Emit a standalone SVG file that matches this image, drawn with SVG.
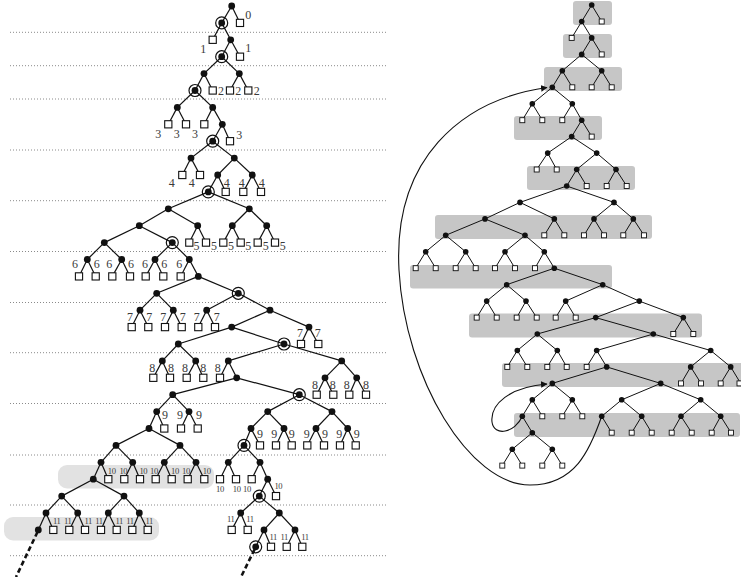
<svg xmlns="http://www.w3.org/2000/svg" width="741" height="577" viewBox="0 0 741 577">
<style>
.dl{stroke:#8a8a8a;stroke-width:1;stroke-dasharray:1 2;fill:none}
.e path{stroke:#111;stroke-width:1.2;fill:none}
.er path{stroke:#111;stroke-width:1;fill:none}
.lb{font-family:"Liberation Serif","DejaVu Serif",serif;font-size:12px;fill:#3a3a3a;text-anchor:middle}
.sm{font-family:"Liberation Serif","DejaVu Serif",serif;font-size:8.6px;fill:#3a3a3a;text-anchor:middle;letter-spacing:-0.4px}
.bxl{fill:#e2e2e2}
.bxr{fill:#c6c6c6}
.arc{stroke:#111;stroke-width:1.1;fill:none;marker-end:url(#ah)}
.dash{stroke:#111;stroke-width:2.6;stroke-dasharray:5 3;fill:none}
</style>
<defs>
<circle id="d" r="3.4" fill="#111"/>
<g id="c"><circle r="3.4" fill="#111"/><circle r="6" fill="none" stroke="#111" stroke-width="1.2"/></g>
<rect id="s" x="-3.6" y="-3.6" width="7.2" height="7.2" fill="#fff" stroke="#111" stroke-width="1.1"/>
<circle id="rd" r="2.8" fill="#111"/>
<rect id="rs" x="-2.5" y="-2.5" width="5" height="5" fill="#fff" stroke="#111" stroke-width="0.9"/>
<marker id="ah" markerWidth="8" markerHeight="8" refX="6" refY="3.4" orient="auto" markerUnits="userSpaceOnUse"><path d="M0 0L6.5 3.4L0 6.8z" fill="#111"/></marker>
</defs>
<rect width="741" height="577" fill="#fff"/>
<g id="bands">
<rect class="bxl" x="58" y="465" width="156" height="23.5" rx="9"/>
<rect class="bxl" x="4" y="517" width="155" height="23.5" rx="9"/>
<rect class="bxr" x="573" y="1" width="39" height="24" rx="3"/>
<rect class="bxr" x="563" y="34" width="49" height="24" rx="3"/>
<rect class="bxr" x="544" y="67" width="78" height="24" rx="3"/>
<rect class="bxr" x="514" y="116" width="88" height="24" rx="3"/>
<rect class="bxr" x="527" y="166" width="108" height="24" rx="3"/>
<rect class="bxr" x="435" y="215" width="217" height="24" rx="3"/>
<rect class="bxr" x="410" y="265" width="202" height="23.5" rx="3"/>
<rect class="bxr" x="469" y="313.5" width="233" height="24" rx="3"/>
<rect class="bxr" x="502" y="363" width="245" height="24" rx="3"/>
<rect class="bxr" x="514" y="413" width="226" height="24" rx="3"/>
</g>
<path class="dl" d="M10 32.3H388M10 65.7H388M10 99H388M10 150H388M10 200.7H388M10 251.5H388M10 302.5H388M10 352.7H388M10 403.5H388M10 455H388M10 505H388M10 555.7H388"/>
<g id="connectors">
<g class="e">
<path d="M231.7 6L221.7 22.9"/><path d="M231.7 6L240 22.9"/>
<path d="M221.7 22.9L212.7 39.8"/><path d="M221.7 22.9L230.7 39.8"/>
<path d="M230.7 39.8L221.7 56.7"/><path d="M230.7 39.8L240 56.7"/>
<path d="M221.7 56.7L204 73.6"/><path d="M221.7 56.7L239.3 73.6"/>
<path d="M204 73.6L195 90.5"/><path d="M204 73.6L212.7 90.5"/>
<path d="M239.3 73.6L230 90.5"/><path d="M239.3 73.6L248.3 90.5"/>
<path d="M195 90.5L177.3 107.4"/><path d="M195 90.5L212.7 107.4"/>
<path d="M177.3 107.4L168.3 124.3"/><path d="M177.3 107.4L186 124.3"/>
<path d="M212.7 107.4L204.3 124.3"/><path d="M212.7 107.4L222.3 124.3"/>
<path d="M222.3 124.3L212.7 141.2"/><path d="M222.3 124.3L230 141.2"/>
<path d="M212.7 141.2L191 158.1"/><path d="M212.7 141.2L234.3 158.1"/>
<path d="M191 158.1L182.3 175"/><path d="M191 158.1L200 175"/>
<path d="M234.3 158.1L217.7 175"/><path d="M234.3 158.1L252.3 175"/>
<path d="M217.7 175L208.3 191.9"/><path d="M217.7 175L225.7 191.9"/>
<path d="M252.3 175L243.3 191.9"/><path d="M252.3 175L261 191.9"/>
<path d="M208.3 191.9L168.3 208.8"/><path d="M208.3 191.9L249.3 208.8"/>
<path d="M168.3 208.8L139.3 225.7"/><path d="M168.3 208.8L197.7 225.7"/>
<path d="M249.3 208.8L232.3 225.7"/><path d="M249.3 208.8L266.7 225.7"/>
<path d="M139.3 225.7L104.3 242.6"/><path d="M139.3 225.7L172.3 242.6"/>
<path d="M197.7 225.7L189.3 242.6"/><path d="M197.7 225.7L206 242.6"/>
<path d="M232.3 225.7L223.3 242.6"/><path d="M232.3 225.7L240.7 242.6"/>
<path d="M266.7 225.7L257.7 242.6"/><path d="M266.7 225.7L275 242.6"/>
<path d="M104.3 242.6L87.3 259.5"/><path d="M104.3 242.6L121.7 259.5"/>
<path d="M172.3 242.6L155 259.5"/><path d="M172.3 242.6L189.3 259.5"/>
<path d="M87.3 259.5L79 276.4"/><path d="M87.3 259.5L95.7 276.4"/>
<path d="M121.7 259.5L112.3 276.4"/><path d="M121.7 259.5L130 276.4"/>
<path d="M155 259.5L145.7 276.4"/><path d="M155 259.5L163.3 276.4"/>
<path d="M189.3 259.5L180.7 276.4"/><path d="M189.3 259.5L198.3 276.4"/>
<path d="M198.3 276.4L156.7 293.3"/><path d="M198.3 276.4L238.3 293.3"/>
<path d="M156.7 293.3L140 310.2"/><path d="M156.7 293.3L173.3 310.2"/>
<path d="M238.3 293.3L206.7 310.2"/><path d="M238.3 293.3L270 310.2"/>
<path d="M140 310.2L131.7 327.1"/><path d="M140 310.2L148.3 327.1"/>
<path d="M173.3 310.2L165 327.1"/><path d="M173.3 310.2L181.7 327.1"/>
<path d="M206.7 310.2L198.3 327.1"/><path d="M206.7 310.2L215 327.1"/>
<path d="M270 310.2L231.7 327.1"/><path d="M270 310.2L309 327.1"/>
<path d="M231.7 327.1L178.3 344"/><path d="M231.7 327.1L284 344"/>
<path d="M309 327.1L301 344"/><path d="M309 327.1L318.3 344"/>
<path d="M178.3 344L162.3 360.9"/><path d="M178.3 344L195.7 360.9"/>
<path d="M284 344L228.3 360.9"/><path d="M284 344L341.7 360.9"/>
<path d="M162.3 360.9L153.3 377.8"/><path d="M162.3 360.9L170 377.8"/>
<path d="M195.7 360.9L186.7 377.8"/><path d="M195.7 360.9L203.3 377.8"/>
<path d="M228.3 360.9L220 377.8"/><path d="M228.3 360.9L236.7 377.8"/>
<path d="M341.7 360.9L325 377.8"/><path d="M341.7 360.9L356.7 377.8"/>
<path d="M236.7 377.8L172.7 394.7"/><path d="M236.7 377.8L299.3 394.7"/>
<path d="M325 377.8L316.7 394.7"/><path d="M325 377.8L333.3 394.7"/>
<path d="M356.7 377.8L349.3 394.7"/><path d="M356.7 377.8L366 394.7"/>
<path d="M172.7 394.7L156.7 411.6"/><path d="M172.7 394.7L189 411.6"/>
<path d="M299.3 394.7L267.7 411.6"/><path d="M299.3 394.7L332 411.6"/>
<path d="M156.7 411.6L149 428.5"/><path d="M156.7 411.6L164.3 428.5"/>
<path d="M189 411.6L181 428.5"/><path d="M189 411.6L197.7 428.5"/>
<path d="M267.7 411.6L251 428.5"/><path d="M267.7 411.6L284 428.5"/>
<path d="M332 411.6L316 428.5"/><path d="M332 411.6L347.7 428.5"/>
<path d="M149 428.5L116 445.4"/><path d="M149 428.5L180 445.4"/>
<path d="M251 428.5L244 445.4"/><path d="M251 428.5L260 445.4"/>
<path d="M284 428.5L276 445.4"/><path d="M284 428.5L291.7 445.4"/>
<path d="M316 428.5L307.3 445.4"/><path d="M316 428.5L324 445.4"/>
<path d="M347.7 428.5L340 445.4"/><path d="M347.7 428.5L355.7 445.4"/>
<path d="M116 445.4L101 462.3"/><path d="M116 445.4L132.7 462.3"/>
<path d="M180 445.4L164.3 462.3"/><path d="M180 445.4L196 462.3"/>
<path d="M244 445.4L228.3 462.3"/><path d="M244 445.4L260 462.3"/>
<path d="M101 462.3L93.3 479.2"/><path d="M101 462.3L108.3 479.2"/>
<path d="M132.7 462.3L124.3 479.2"/><path d="M132.7 462.3L140 479.2"/>
<path d="M164.3 462.3L155.7 479.2"/><path d="M164.3 462.3L171.7 479.2"/>
<path d="M196 462.3L187.7 479.2"/><path d="M196 462.3L204.3 479.2"/>
<path d="M228.3 462.3L220 479.2"/><path d="M228.3 462.3L236 479.2"/>
<path d="M260 462.3L251.7 479.2"/><path d="M260 462.3L267.7 479.2"/>
<path d="M93.3 479.2L61.7 496.1"/><path d="M93.3 479.2L124 496.1"/>
<path d="M267.7 479.2L259.3 496.1"/><path d="M267.7 479.2L276 496.1"/>
<path d="M61.7 496.1L46 513"/><path d="M61.7 496.1L77.7 513"/>
<path d="M124 496.1L108.3 513"/><path d="M124 496.1L139.3 513"/>
<path d="M259.3 496.1L240.7 513"/><path d="M259.3 496.1L279.3 513"/>
<path d="M46 513L38.3 529.9"/><path d="M46 513L53.3 529.9"/>
<path d="M77.7 513L69.3 529.9"/><path d="M77.7 513L85 529.9"/>
<path d="M108.3 513L101 529.9"/><path d="M108.3 513L116.7 529.9"/>
<path d="M139.3 513L132.3 529.9"/><path d="M139.3 513L147.7 529.9"/>
<path d="M240.7 513L231.7 529.9"/><path d="M240.7 513L247.7 529.9"/>
<path d="M279.3 513L264 529.9"/><path d="M279.3 513L295 529.9"/>
<path d="M264 529.9L255.7 546.8"/><path d="M264 529.9L271 546.8"/>
<path d="M295 529.9L286.7 546.8"/><path d="M295 529.9L302.3 546.8"/>
</g>
<path class="dash" d="M37.5 532L16 577"/>
<path class="dash" d="M254.5 549.5L241 577"/>
<g class="er">
<path d="M591.7 5L581.7 21.5"/><path d="M591.7 5L601.7 21.5"/>
<path d="M581.7 21.5L571.7 37.9"/><path d="M581.7 21.5L591.7 37.9"/>
<path d="M591.7 37.9L581.7 54.4"/><path d="M591.7 37.9L601.7 54.4"/>
<path d="M581.7 54.4L562.3 70.8"/><path d="M581.7 54.4L601.7 70.8"/>
<path d="M562.3 70.8L552.3 87.3"/><path d="M562.3 70.8L572.3 87.3"/>
<path d="M601.7 70.8L591.7 87.3"/><path d="M601.7 70.8L611.7 87.3"/>
<path d="M552.3 87.3L532.3 103.7"/><path d="M552.3 87.3L572.3 103.7"/>
<path d="M532.3 103.7L522.3 120.2"/><path d="M532.3 103.7L542.3 120.2"/>
<path d="M572.3 103.7L562.3 120.2"/><path d="M572.3 103.7L581.7 120.2"/>
<path d="M581.7 120.2L571.7 136.6"/><path d="M581.7 120.2L591.7 136.6"/>
<path d="M571.7 136.6L547.7 153.1"/><path d="M571.7 136.6L596.7 153.1"/>
<path d="M547.7 153.1L536.7 169.5"/><path d="M547.7 153.1L556.7 169.5"/>
<path d="M596.7 153.1L576.7 169.5"/><path d="M596.7 153.1L616 169.5"/>
<path d="M576.7 169.5L566.7 186"/><path d="M576.7 169.5L586.7 186"/>
<path d="M616 169.5L606.7 186"/><path d="M616 169.5L626.7 186"/>
<path d="M566.7 186L520 202.4"/><path d="M566.7 186L614 202.4"/>
<path d="M520 202.4L485 218.9"/><path d="M520 202.4L554.3 218.9"/>
<path d="M614 202.4L594 218.9"/><path d="M614 202.4L633.3 218.9"/>
<path d="M485 218.9L445.7 235.3"/><path d="M485 218.9L525 235.3"/>
<path d="M554.3 218.9L544.3 235.3"/><path d="M554.3 218.9L564.3 235.3"/>
<path d="M594 218.9L584 235.3"/><path d="M594 218.9L604 235.3"/>
<path d="M633.3 218.9L623.3 235.3"/><path d="M633.3 218.9L644 235.3"/>
<path d="M445.7 235.3L425.7 251.8"/><path d="M445.7 235.3L465.7 251.8"/>
<path d="M525 235.3L505 251.8"/><path d="M525 235.3L544.3 251.8"/>
<path d="M425.7 251.8L415.7 268.2"/><path d="M425.7 251.8L435.7 268.2"/>
<path d="M465.7 251.8L455.7 268.2"/><path d="M465.7 251.8L475.7 268.2"/>
<path d="M505 251.8L495 268.2"/><path d="M505 251.8L515 268.2"/>
<path d="M544.3 251.8L535 268.2"/><path d="M544.3 251.8L554.3 268.2"/>
<path d="M554.3 268.2L506.7 284.7"/><path d="M554.3 268.2L602.7 284.7"/>
<path d="M506.7 284.7L486.7 301.1"/><path d="M506.7 284.7L526 301.1"/>
<path d="M602.7 284.7L565.7 301.1"/><path d="M602.7 284.7L639.3 301.1"/>
<path d="M486.7 301.1L476.7 317.6"/><path d="M486.7 301.1L496.7 317.6"/>
<path d="M526 301.1L516.7 317.6"/><path d="M526 301.1L536.7 317.6"/>
<path d="M565.7 301.1L555.7 317.6"/><path d="M565.7 301.1L575.7 317.6"/>
<path d="M639.3 301.1L595.7 317.6"/><path d="M639.3 301.1L683.3 317.6"/>
<path d="M595.7 317.6L537.3 334"/><path d="M595.7 317.6L653.3 334"/>
<path d="M683.3 317.6L673.3 334"/><path d="M683.3 317.6L693.3 334"/>
<path d="M537.3 334L517.3 350.5"/><path d="M537.3 334L557.3 350.5"/>
<path d="M653.3 334L596.7 350.5"/><path d="M653.3 334L710.7 350.5"/>
<path d="M517.3 350.5L507.3 366.9"/><path d="M517.3 350.5L527.3 366.9"/>
<path d="M557.3 350.5L547.3 366.9"/><path d="M557.3 350.5L566.7 366.9"/>
<path d="M596.7 350.5L586.7 366.9"/><path d="M596.7 350.5L606.7 366.9"/>
<path d="M710.7 350.5L690.7 366.9"/><path d="M710.7 350.5L730.7 366.9"/>
<path d="M606.7 366.9L552.3 383.4"/><path d="M606.7 366.9L660.7 383.4"/>
<path d="M690.7 366.9L681 383.4"/><path d="M690.7 366.9L701 383.4"/>
<path d="M730.7 366.9L720.7 383.4"/><path d="M730.7 366.9L740.7 383.4"/>
<path d="M552.3 383.4L532.3 399.8"/><path d="M552.3 383.4L572.3 399.8"/>
<path d="M660.7 383.4L621.7 399.8"/><path d="M660.7 383.4L700.7 399.8"/>
<path d="M532.3 399.8L522.3 416.3"/><path d="M532.3 399.8L542.3 416.3"/>
<path d="M572.3 399.8L562.3 416.3"/><path d="M572.3 399.8L582.3 416.3"/>
<path d="M621.7 399.8L601.7 416.3"/><path d="M621.7 399.8L641.7 416.3"/>
<path d="M700.7 399.8L681 416.3"/><path d="M700.7 399.8L720.7 416.3"/>
<path d="M522.3 416.3L532.3 432.7"/>
<path d="M601.7 416.3L611.7 432.7"/>
<path d="M641.7 416.3L631.7 432.7"/><path d="M641.7 416.3L651.7 432.7"/>
<path d="M681 416.3L671.7 432.7"/><path d="M681 416.3L691.7 432.7"/>
<path d="M720.7 416.3L711.7 432.7"/><path d="M720.7 416.3L731 432.7"/>
<path d="M532.3 432.7L512.3 449.2"/><path d="M532.3 432.7L552.3 449.2"/>
<path d="M512.3 449.2L502.3 465.6"/><path d="M512.3 449.2L522.3 465.6"/>
<path d="M552.3 449.2L542.3 465.6"/><path d="M552.3 449.2L562.3 465.6"/>
</g>
<path class="arc" d="M601.7 416.3C590 450 575 485 530 485C470 485 405 380 399 270C393 160 460 100 547 87.5"/>
<path class="arc" d="M522.3 416.3C515 433 494 437 492 422C490 404 510 387 547 384"/>
</g>
<g id="left-tree">
<g id="L0"><use href="#d" x="231.7" y="6"/></g>
<g id="L1a"><use href="#c" x="221.7" y="22.9"/></g>
<g id="L1b"><use href="#s" x="240" y="22.9"/><text class="lb" x="248.3" y="19.3">0</text></g>
<g id="L2a"><use href="#s" x="212.7" y="39.8"/><text class="lb" x="203.3" y="52.6">1</text></g>
<g id="L2b"><use href="#d" x="230.7" y="39.8"/></g>
<g id="L3a"><use href="#c" x="221.7" y="56.7"/></g>
<g id="L3b"><use href="#s" x="240" y="56.7"/><text class="lb" x="248.3" y="52">1</text></g>
<g id="L4a"><use href="#d" x="204" y="73.6"/></g>
<g id="L4b"><use href="#d" x="239.3" y="73.6"/></g>
<g id="L5a"><use href="#c" x="195" y="90.5"/></g>
<g id="L5b"><use href="#s" x="212.7" y="90.5"/><text class="lb" x="221" y="95">2</text></g>
<g id="L5c"><use href="#s" x="230" y="90.5"/><text class="lb" x="238.3" y="95">2</text></g>
<g id="L5d"><use href="#s" x="248.3" y="90.5"/><text class="lb" x="256.7" y="95">2</text></g>
<g id="L6a"><use href="#d" x="177.3" y="107.4"/></g>
<g id="L6b"><use href="#d" x="212.7" y="107.4"/></g>
<g id="L7a"><use href="#s" x="168.3" y="124.3"/><text class="lb" x="158.3" y="137.6">3</text></g>
<g id="L7b"><use href="#s" x="186" y="124.3"/><text class="lb" x="176.7" y="137.6">3</text></g>
<g id="L7c"><use href="#s" x="204.3" y="124.3"/><text class="lb" x="195" y="137.6">3</text></g>
<g id="L7d"><use href="#d" x="222.3" y="124.3"/></g>
<g id="L8a"><use href="#c" x="212.7" y="141.2"/></g>
<g id="L8b"><use href="#s" x="230" y="141.2"/><text class="lb" x="239.3" y="139.3">3</text></g>
<g id="L9a"><use href="#d" x="191" y="158.1"/></g>
<g id="L9b"><use href="#d" x="234.3" y="158.1"/></g>
<g id="L10a"><use href="#s" x="182.3" y="175"/><text class="lb" x="171.7" y="187">4</text></g>
<g id="L10b"><use href="#s" x="200" y="175"/><text class="lb" x="191.7" y="187">4</text></g>
<g id="L10c"><use href="#d" x="217.7" y="175"/></g>
<g id="L10d"><use href="#d" x="252.3" y="175"/></g>
<g id="L11a"><use href="#c" x="208.3" y="191.9"/></g>
<g id="L11b"><use href="#s" x="225.7" y="191.9"/><text class="lb" x="226.7" y="187">4</text></g>
<g id="L11c"><use href="#s" x="243.3" y="191.9"/><text class="lb" x="241.7" y="187">4</text></g>
<g id="L11d"><use href="#s" x="261" y="191.9"/><text class="lb" x="261.7" y="187">4</text></g>
<g id="L12a"><use href="#d" x="168.3" y="208.8"/></g>
<g id="L12b"><use href="#d" x="249.3" y="208.8"/></g>
<g id="L13a"><use href="#d" x="139.3" y="225.7"/></g>
<g id="L13b"><use href="#d" x="197.7" y="225.7"/></g>
<g id="L13c"><use href="#d" x="232.3" y="225.7"/></g>
<g id="L13d"><use href="#d" x="266.7" y="225.7"/></g>
<g id="L14a"><use href="#d" x="104.3" y="242.6"/></g>
<g id="L14b"><use href="#c" x="172.3" y="242.6"/></g>
<g id="L14c"><use href="#s" x="189.3" y="242.6"/><text class="lb" x="196.5" y="249.6">5</text></g>
<g id="L14d"><use href="#s" x="206" y="242.6"/><text class="lb" x="214" y="249.6">5</text></g>
<g id="L14e"><use href="#s" x="223.3" y="242.6"/><text class="lb" x="231" y="249.6">5</text></g>
<g id="L14f"><use href="#s" x="240.7" y="242.6"/><text class="lb" x="248.3" y="249.6">5</text></g>
<g id="L14g"><use href="#s" x="257.7" y="242.6"/><text class="lb" x="265.7" y="249.6">5</text></g>
<g id="L14h"><use href="#s" x="275" y="242.6"/><text class="lb" x="282.7" y="249.6">5</text></g>
<g id="L15a"><use href="#d" x="87.3" y="259.5"/></g>
<g id="L15b"><use href="#d" x="121.7" y="259.5"/></g>
<g id="L15c"><use href="#d" x="155" y="259.5"/></g>
<g id="L15d"><use href="#d" x="189.3" y="259.5"/></g>
<g id="L16a"><use href="#s" x="79" y="276.4"/><text class="lb" x="75" y="268.3">6</text></g>
<g id="L16b"><use href="#s" x="95.7" y="276.4"/><text class="lb" x="96.7" y="268.3">6</text></g>
<g id="L16c"><use href="#s" x="112.3" y="276.4"/><text class="lb" x="109.3" y="268.3">6</text></g>
<g id="L16d"><use href="#s" x="130" y="276.4"/><text class="lb" x="131" y="268.3">6</text></g>
<g id="L16e"><use href="#s" x="145.7" y="276.4"/><text class="lb" x="145" y="268.3">6</text></g>
<g id="L16f"><use href="#s" x="163.3" y="276.4"/><text class="lb" x="164.3" y="268.3">6</text></g>
<g id="L16g"><use href="#s" x="180.7" y="276.4"/><text class="lb" x="179.3" y="268.3">6</text></g>
<g id="L16h"><use href="#d" x="198.3" y="276.4"/></g>
<g id="L17a"><use href="#d" x="156.7" y="293.3"/></g>
<g id="L17b"><use href="#c" x="238.3" y="293.3"/></g>
<g id="L18a"><use href="#d" x="140" y="310.2"/></g>
<g id="L18b"><use href="#d" x="173.3" y="310.2"/></g>
<g id="L18c"><use href="#d" x="206.7" y="310.2"/></g>
<g id="L18d"><use href="#d" x="270" y="310.2"/></g>
<g id="L19a"><use href="#s" x="131.7" y="327.1"/><text class="lb" x="130" y="320.6">7</text></g>
<g id="L19b"><use href="#s" x="148.3" y="327.1"/><text class="lb" x="149.3" y="320.6">7</text></g>
<g id="L19c"><use href="#s" x="165" y="327.1"/><text class="lb" x="163.3" y="320.6">7</text></g>
<g id="L19d"><use href="#s" x="181.7" y="327.1"/><text class="lb" x="182.7" y="320.6">7</text></g>
<g id="L19e"><use href="#s" x="198.3" y="327.1"/><text class="lb" x="196.7" y="320.6">7</text></g>
<g id="L19f"><use href="#s" x="215" y="327.1"/><text class="lb" x="216.7" y="320.6">7</text></g>
<g id="L19g"><use href="#d" x="231.7" y="327.1"/></g>
<g id="L19h"><use href="#d" x="309" y="327.1"/></g>
<g id="L20a"><use href="#d" x="178.3" y="344"/></g>
<g id="L20b"><use href="#c" x="284" y="344"/></g>
<g id="L20c"><use href="#s" x="301" y="344"/><text class="lb" x="300" y="337">7</text></g>
<g id="L20d"><use href="#s" x="318.3" y="344"/><text class="lb" x="317.7" y="337">7</text></g>
<g id="L21a"><use href="#d" x="162.3" y="360.9"/></g>
<g id="L21b"><use href="#d" x="195.7" y="360.9"/></g>
<g id="L21c"><use href="#d" x="228.3" y="360.9"/></g>
<g id="L21d"><use href="#d" x="341.7" y="360.9"/></g>
<g id="L22a"><use href="#s" x="153.3" y="377.8"/><text class="lb" x="152.3" y="372.3">8</text></g>
<g id="L22b"><use href="#s" x="170" y="377.8"/><text class="lb" x="171" y="372.3">8</text></g>
<g id="L22c"><use href="#s" x="186.7" y="377.8"/><text class="lb" x="185" y="372.3">8</text></g>
<g id="L22d"><use href="#s" x="203.3" y="377.8"/><text class="lb" x="203.3" y="372.3">8</text></g>
<g id="L22e"><use href="#s" x="220" y="377.8"/><text class="lb" x="217.7" y="372.3">8</text></g>
<g id="L22f"><use href="#d" x="236.7" y="377.8"/></g>
<g id="L22g"><use href="#d" x="325" y="377.8"/></g>
<g id="L22h"><use href="#d" x="356.7" y="377.8"/></g>
<g id="L23a"><use href="#d" x="172.7" y="394.7"/></g>
<g id="L23b"><use href="#c" x="299.3" y="394.7"/></g>
<g id="L23c"><use href="#s" x="316.7" y="394.7"/><text class="lb" x="315" y="389.3">8</text></g>
<g id="L23d"><use href="#s" x="333.3" y="394.7"/><text class="lb" x="332.7" y="389.3">8</text></g>
<g id="L23e"><use href="#s" x="349.3" y="394.7"/><text class="lb" x="346.7" y="389.3">8</text></g>
<g id="L23f"><use href="#s" x="366" y="394.7"/><text class="lb" x="366" y="389.3">8</text></g>
<g id="L24a"><use href="#d" x="156.7" y="411.6"/></g>
<g id="L24b"><use href="#d" x="189" y="411.6"/></g>
<g id="L24c"><use href="#d" x="267.7" y="411.6"/></g>
<g id="L24d"><use href="#d" x="332" y="411.6"/></g>
<g id="L25a"><use href="#d" x="149" y="428.5"/></g>
<g id="L25b"><use href="#s" x="164.3" y="428.5"/><text class="lb" x="165" y="419.3">9</text></g>
<g id="L25c"><use href="#s" x="181" y="428.5"/><text class="lb" x="180" y="419.3">9</text></g>
<g id="L25d"><use href="#s" x="197.7" y="428.5"/><text class="lb" x="199" y="419.3">9</text></g>
<g id="L25e"><use href="#d" x="251" y="428.5"/></g>
<g id="L25f"><use href="#d" x="284" y="428.5"/></g>
<g id="L25g"><use href="#d" x="316" y="428.5"/></g>
<g id="L25h"><use href="#d" x="347.7" y="428.5"/></g>
<g id="L26a"><use href="#d" x="116" y="445.4"/></g>
<g id="L26b"><use href="#d" x="180" y="445.4"/></g>
<g id="L26c"><use href="#c" x="244" y="445.4"/></g>
<g id="L26d"><use href="#s" x="260" y="445.4"/><text class="lb" x="260" y="437.6">9</text></g>
<g id="L26e"><use href="#s" x="276" y="445.4"/><text class="lb" x="274.3" y="437.6">9</text></g>
<g id="L26f"><use href="#s" x="291.7" y="445.4"/><text class="lb" x="291.7" y="437.6">9</text></g>
<g id="L26g"><use href="#s" x="307.3" y="445.4"/><text class="lb" x="306.7" y="437.6">9</text></g>
<g id="L26h"><use href="#s" x="324" y="445.4"/><text class="lb" x="325" y="437.6">9</text></g>
<g id="L26i"><use href="#s" x="340" y="445.4"/><text class="lb" x="339.3" y="437.6">9</text></g>
<g id="L26j"><use href="#s" x="355.7" y="445.4"/><text class="lb" x="356.7" y="437.6">9</text></g>
<g id="L27a"><use href="#d" x="101" y="462.3"/></g>
<g id="L27b"><use href="#d" x="132.7" y="462.3"/></g>
<g id="L27c"><use href="#d" x="164.3" y="462.3"/></g>
<g id="L27d"><use href="#d" x="196" y="462.3"/></g>
<g id="L27e"><use href="#d" x="228.3" y="462.3"/></g>
<g id="L27f"><use href="#d" x="260" y="462.3"/></g>
<g id="L28a"><use href="#d" x="93.3" y="479.2"/></g>
<g id="L28b"><use href="#s" x="108.3" y="479.2"/><text class="sm" x="111.7" y="474">10</text></g>
<g id="L28c"><use href="#s" x="124.3" y="479.2"/><text class="sm" x="123.3" y="474">10</text></g>
<g id="L28d"><use href="#s" x="140" y="479.2"/><text class="sm" x="143.3" y="474">10</text></g>
<g id="L28e"><use href="#s" x="155.7" y="479.2"/><text class="sm" x="154" y="474">10</text></g>
<g id="L28f"><use href="#s" x="171.7" y="479.2"/><text class="sm" x="175" y="474">10</text></g>
<g id="L28g"><use href="#s" x="187.7" y="479.2"/><text class="sm" x="186" y="474">10</text></g>
<g id="L28h"><use href="#s" x="204.3" y="479.2"/><text class="sm" x="206.7" y="474">10</text></g>
<g id="L28i"><use href="#s" x="220" y="479.2"/><text class="sm" x="220" y="492.3">10</text></g>
<g id="L28j"><use href="#s" x="236" y="479.2"/><text class="sm" x="236.7" y="492.3">10</text></g>
<g id="L28k"><use href="#s" x="251.7" y="479.2"/><text class="sm" x="247" y="492.3">10</text></g>
<g id="L28l"><use href="#d" x="267.7" y="479.2"/></g>
<g id="L29a"><use href="#d" x="61.7" y="496.1"/></g>
<g id="L29b"><use href="#d" x="124" y="496.1"/></g>
<g id="L29c"><use href="#c" x="259.3" y="496.1"/></g>
<g id="L29d"><use href="#s" x="276" y="496.1"/><text class="sm" x="278.3" y="489.3">10</text></g>
<g id="L30a"><use href="#d" x="46" y="513"/></g>
<g id="L30b"><use href="#d" x="77.7" y="513"/></g>
<g id="L30c"><use href="#d" x="108.3" y="513"/></g>
<g id="L30d"><use href="#d" x="139.3" y="513"/></g>
<g id="L30e"><use href="#d" x="240.7" y="513"/></g>
<g id="L30f"><use href="#d" x="279.3" y="513"/></g>
<g id="L31a"><use href="#d" x="38.3" y="529.9"/></g>
<g id="L31b"><use href="#s" x="53.3" y="529.9"/><text class="sm" x="56.7" y="524">11</text></g>
<g id="L31c"><use href="#s" x="69.3" y="529.9"/><text class="sm" x="67.7" y="524">11</text></g>
<g id="L31d"><use href="#s" x="85" y="529.9"/><text class="sm" x="88.3" y="524">11</text></g>
<g id="L31e"><use href="#s" x="101" y="529.9"/><text class="sm" x="99" y="524">11</text></g>
<g id="L31f"><use href="#s" x="116.7" y="529.9"/><text class="sm" x="119.3" y="524">11</text></g>
<g id="L31g"><use href="#s" x="132.3" y="529.9"/><text class="sm" x="130" y="524">11</text></g>
<g id="L31h"><use href="#s" x="147.7" y="529.9"/><text class="sm" x="149.3" y="524">11</text></g>
<g id="L31i"><use href="#s" x="231.7" y="529.9"/><text class="sm" x="230.7" y="522.3">11</text></g>
<g id="L31j"><use href="#s" x="247.7" y="529.9"/><text class="sm" x="250" y="522.3">11</text></g>
<g id="L31k"><use href="#d" x="264" y="529.9"/></g>
<g id="L31l"><use href="#d" x="295" y="529.9"/></g>
<g id="L32a"><use href="#c" x="255.7" y="546.8"/></g>
<g id="L32b"><use href="#s" x="271" y="546.8"/><text class="sm" x="273.3" y="540">11</text></g>
<g id="L32c"><use href="#s" x="286.7" y="546.8"/><text class="sm" x="284.3" y="540">11</text></g>
<g id="L32d"><use href="#s" x="302.3" y="546.8"/><text class="sm" x="305" y="540">11</text></g>
</g>
<g id="right-tree">
<g id="R0"><use href="#rd" x="591.7" y="5"/></g>
<g id="R1a"><use href="#rd" x="581.7" y="21.5"/></g><g id="R1b"><use href="#rs" x="601.7" y="21.5"/></g>
<g id="R2a"><use href="#rs" x="571.7" y="37.9"/></g><g id="R2b"><use href="#rd" x="591.7" y="37.9"/></g>
<g id="R3a"><use href="#rd" x="581.7" y="54.4"/></g><g id="R3b"><use href="#rs" x="601.7" y="54.4"/></g>
<g id="R4a"><use href="#rd" x="562.3" y="70.8"/></g><g id="R4b"><use href="#rd" x="601.7" y="70.8"/></g>
<g id="R5a"><use href="#rd" x="552.3" y="87.3"/></g><g id="R5b"><use href="#rs" x="572.3" y="87.3"/></g><g id="R5c"><use href="#rs" x="591.7" y="87.3"/></g><g id="R5d"><use href="#rs" x="611.7" y="87.3"/></g>
<g id="R6a"><use href="#rd" x="532.3" y="103.7"/></g><g id="R6b"><use href="#rd" x="572.3" y="103.7"/></g>
<g id="R7a"><use href="#rs" x="522.3" y="120.2"/></g><g id="R7b"><use href="#rs" x="542.3" y="120.2"/></g><g id="R7c"><use href="#rs" x="562.3" y="120.2"/></g><g id="R7d"><use href="#rd" x="581.7" y="120.2"/></g>
<g id="R8a"><use href="#rd" x="571.7" y="136.6"/></g><g id="R8b"><use href="#rs" x="591.7" y="136.6"/></g>
<g id="R9a"><use href="#rd" x="547.7" y="153.1"/></g><g id="R9b"><use href="#rd" x="596.7" y="153.1"/></g>
<g id="R10a"><use href="#rs" x="536.7" y="169.5"/></g><g id="R10b"><use href="#rs" x="556.7" y="169.5"/></g><g id="R10c"><use href="#rd" x="576.7" y="169.5"/></g><g id="R10d"><use href="#rd" x="616" y="169.5"/></g>
<g id="R11a"><use href="#rd" x="566.7" y="186"/></g><g id="R11b"><use href="#rs" x="586.7" y="186"/></g><g id="R11c"><use href="#rs" x="606.7" y="186"/></g><g id="R11d"><use href="#rs" x="626.7" y="186"/></g>
<g id="R12a"><use href="#rd" x="520" y="202.4"/></g><g id="R12b"><use href="#rd" x="614" y="202.4"/></g>
<g id="R13a"><use href="#rd" x="485" y="218.9"/></g><g id="R13b"><use href="#rd" x="554.3" y="218.9"/></g><g id="R13c"><use href="#rd" x="594" y="218.9"/></g><g id="R13d"><use href="#rd" x="633.3" y="218.9"/></g>
<g id="R14a"><use href="#rd" x="445.7" y="235.3"/></g><g id="R14b"><use href="#rd" x="525" y="235.3"/></g><g id="R14c"><use href="#rs" x="544.3" y="235.3"/></g><g id="R14d"><use href="#rs" x="564.3" y="235.3"/></g><g id="R14e"><use href="#rs" x="584" y="235.3"/></g><g id="R14f"><use href="#rs" x="604" y="235.3"/></g><g id="R14g"><use href="#rs" x="623.3" y="235.3"/></g><g id="R14h"><use href="#rs" x="644" y="235.3"/></g>
<g id="R15a"><use href="#rd" x="425.7" y="251.8"/></g><g id="R15b"><use href="#rd" x="465.7" y="251.8"/></g><g id="R15c"><use href="#rd" x="505" y="251.8"/></g><g id="R15d"><use href="#rd" x="544.3" y="251.8"/></g>
<g id="R16a"><use href="#rs" x="415.7" y="268.2"/></g><g id="R16b"><use href="#rs" x="435.7" y="268.2"/></g><g id="R16c"><use href="#rs" x="455.7" y="268.2"/></g><g id="R16d"><use href="#rs" x="475.7" y="268.2"/></g><g id="R16e"><use href="#rs" x="495" y="268.2"/></g><g id="R16f"><use href="#rs" x="515" y="268.2"/></g><g id="R16g"><use href="#rs" x="535" y="268.2"/></g><g id="R16h"><use href="#rd" x="554.3" y="268.2"/></g>
<g id="R17a"><use href="#rd" x="506.7" y="284.7"/></g><g id="R17b"><use href="#rd" x="602.7" y="284.7"/></g>
<g id="R18a"><use href="#rd" x="486.7" y="301.1"/></g><g id="R18b"><use href="#rd" x="526" y="301.1"/></g><g id="R18c"><use href="#rd" x="565.7" y="301.1"/></g><g id="R18d"><use href="#rd" x="639.3" y="301.1"/></g>
<g id="R19a"><use href="#rs" x="476.7" y="317.6"/></g><g id="R19b"><use href="#rs" x="496.7" y="317.6"/></g><g id="R19c"><use href="#rs" x="516.7" y="317.6"/></g><g id="R19d"><use href="#rs" x="536.7" y="317.6"/></g><g id="R19e"><use href="#rs" x="555.7" y="317.6"/></g><g id="R19f"><use href="#rs" x="575.7" y="317.6"/></g><g id="R19g"><use href="#rd" x="595.7" y="317.6"/></g><g id="R19h"><use href="#rd" x="683.3" y="317.6"/></g>
<g id="R20a"><use href="#rd" x="537.3" y="334"/></g><g id="R20b"><use href="#rd" x="653.3" y="334"/></g><g id="R20c"><use href="#rs" x="673.3" y="334"/></g><g id="R20d"><use href="#rs" x="693.3" y="334"/></g>
<g id="R21a"><use href="#rd" x="517.3" y="350.5"/></g><g id="R21b"><use href="#rd" x="557.3" y="350.5"/></g><g id="R21c"><use href="#rd" x="596.7" y="350.5"/></g><g id="R21d"><use href="#rd" x="710.7" y="350.5"/></g>
<g id="R22a"><use href="#rs" x="507.3" y="366.9"/></g><g id="R22b"><use href="#rs" x="527.3" y="366.9"/></g><g id="R22c"><use href="#rs" x="547.3" y="366.9"/></g><g id="R22d"><use href="#rs" x="566.7" y="366.9"/></g><g id="R22e"><use href="#rs" x="586.7" y="366.9"/></g><g id="R22f"><use href="#rd" x="606.7" y="366.9"/></g><g id="R22g"><use href="#rd" x="690.7" y="366.9"/></g><g id="R22h"><use href="#rd" x="730.7" y="366.9"/></g>
<g id="R23a"><use href="#rd" x="552.3" y="383.4"/></g><g id="R23b"><use href="#rd" x="660.7" y="383.4"/></g><g id="R23c"><use href="#rs" x="681" y="383.4"/></g><g id="R23d"><use href="#rs" x="701" y="383.4"/></g><g id="R23e"><use href="#rs" x="720.7" y="383.4"/></g><g id="R23f"><use href="#rs" x="739.5" y="383.4"/></g>
<g id="R24a"><use href="#rd" x="532.3" y="399.8"/></g><g id="R24b"><use href="#rd" x="572.3" y="399.8"/></g><g id="R24c"><use href="#rd" x="621.7" y="399.8"/></g><g id="R24d"><use href="#rd" x="700.7" y="399.8"/></g>
<g id="R25a"><use href="#rd" x="522.3" y="416.3"/></g><g id="R25b"><use href="#rs" x="542.3" y="416.3"/></g><g id="R25c"><use href="#rs" x="562.3" y="416.3"/></g><g id="R25d"><use href="#rs" x="582.3" y="416.3"/></g><g id="R25e"><use href="#rd" x="601.7" y="416.3"/></g><g id="R25f"><use href="#rd" x="641.7" y="416.3"/></g><g id="R25g"><use href="#rd" x="681" y="416.3"/></g><g id="R25h"><use href="#rd" x="720.7" y="416.3"/></g>
<g id="R26a"><use href="#rd" x="532.3" y="432.7"/></g><g id="R26b"><use href="#rs" x="611.7" y="432.7"/></g><g id="R26c"><use href="#rs" x="631.7" y="432.7"/></g><g id="R26d"><use href="#rs" x="651.7" y="432.7"/></g><g id="R26e"><use href="#rs" x="671.7" y="432.7"/></g><g id="R26f"><use href="#rs" x="691.7" y="432.7"/></g><g id="R26g"><use href="#rs" x="711.7" y="432.7"/></g><g id="R26h"><use href="#rs" x="731" y="432.7"/></g>
<g id="R27a"><use href="#rd" x="512.3" y="449.2"/></g><g id="R27b"><use href="#rd" x="552.3" y="449.2"/></g>
<g id="R28a"><use href="#rs" x="502.3" y="465.6"/></g><g id="R28b"><use href="#rs" x="522.3" y="465.6"/></g><g id="R28c"><use href="#rs" x="542.3" y="465.6"/></g><g id="R28d"><use href="#rs" x="562.3" y="465.6"/></g>
</g>
</svg>
